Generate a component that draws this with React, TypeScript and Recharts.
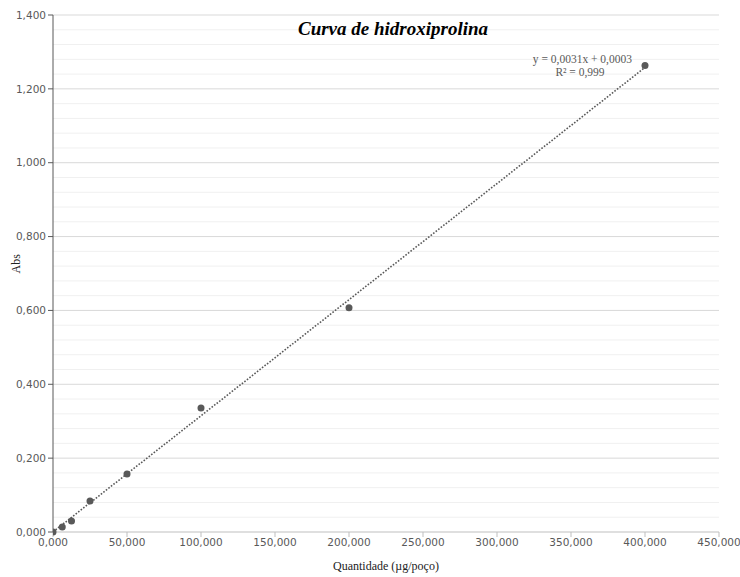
import { ComposedChart, Scatter, Line, XAxis, YAxis, ReferenceLine } from 'recharts'

// quantidade (µg/poço) vs absorbância
const quantidade = [0, 6.25, 12.5, 25, 50, 100, 200, 400]
const abs = [0, 0.0135, 0.03, 0.084, 0.157, 0.336, 0.607, 1.263]

// linear trendline endpoints as drawn in the picture
const trendX = [0, 400]
const trendY = [0.0003, 1.258]

const xTicks = [0, 50, 100, 150, 200, 250, 300, 350, 400, 450]
const yTicks = [0, 0.2, 0.4, 0.6, 0.8, 1.0, 1.2, 1.4]
const minorY = [0.04, 0.08, 0.12, 0.16, 0.24, 0.28, 0.32, 0.36, 0.44, 0.48, 0.52, 0.56, 0.64, 0.68, 0.72, 0.76,
  0.84, 0.88, 0.92, 0.96, 1.04, 1.08, 1.12, 1.16, 1.24, 1.28, 1.32, 1.36]

const points = quantidade.map((x, i) => ({ x, y: abs[i] }))
const trend = trendX.map((x, i) => ({ x, y: trendY[i] }))

const fmt = (v: number) => v.toFixed(3).replace('.', ',')
const serif = '"Liberation Serif", "Times New Roman", serif'
const tickStyle = { fontSize: 10.5, fill: '#595959', fontFamily: '"DejaVu Sans", sans-serif' }

export default function App() {
  return (
    <div style={{ position: 'absolute', left: 0, top: 0, width: 740, height: 577, background: '#fff' }}>
      <ComposedChart width={740} height={577} margin={{ top: 15, right: 21, bottom: 0, left: 0 }}>
        {minorY.map(v => (
          <ReferenceLine key={v} y={v} stroke="#f0f0f0" strokeWidth={1} />
        ))}
        {yTicks.slice(1).map(v => (
          <ReferenceLine key={'m' + v} y={v} stroke="#d9d9d9" strokeWidth={1} />
        ))}
        <XAxis
          type="number"
          dataKey="x"
          domain={[0, 450]}
          ticks={xTicks}
          tickFormatter={fmt}
          height={45}
          stroke="#bfbfbf"
          tickSize={5}
          tick={tickStyle}
          allowDataOverflow
          label={{ value: 'Quantidade (µg/poço)', position: 'insideBottom', offset: 7, fill: '#222', fontSize: 12, fontFamily: serif }}
        />
        <YAxis
          type="number"
          dataKey="y"
          domain={[0, 1.4]}
          ticks={yTicks}
          tickFormatter={fmt}
          width={53}
          stroke="#595959"
          tickSize={5}
          tick={tickStyle}
          label={{ value: 'Abs', angle: -90, position: 'insideLeft', offset: 16, fill: '#222', fontSize: 12, fontFamily: serif }}
        />
        <Line
          data={trend}
          dataKey="y"
          type="linear"
          stroke="#595959"
          strokeWidth={1.6}
          strokeDasharray="1.6 1.6"
          dot={false}
          activeDot={false}
          isAnimationActive={false}
        />
        <Scatter data={points} dataKey="y" fill="#595959" shape={(p: any) => <circle cx={p.cx} cy={p.cy} r={3.5} fill="#595959" />} isAnimationActive={false} />
      </ComposedChart>
      <div style={{ position: 'absolute', left: 0, width: 786, top: 18, textAlign: 'center', fontFamily: serif, fontSize: 19, fontWeight: 'bold', fontStyle: 'italic', color: '#000' }}>
        Curva de hidroxiprolina
      </div>
      <div style={{ position: 'absolute', left: 520, width: 112, top: 53, textAlign: 'right', fontFamily: serif, fontSize: 11.5, color: '#595959', lineHeight: '13px' }}>
        y = 0,0031x + 0,0003
      </div>
      <div style={{ position: 'absolute', left: 530, width: 100, top: 66, textAlign: 'center', fontFamily: serif, fontSize: 11.5, color: '#595959', lineHeight: '13px' }}>
        R² = 0,999
      </div>
    </div>
  )
}
